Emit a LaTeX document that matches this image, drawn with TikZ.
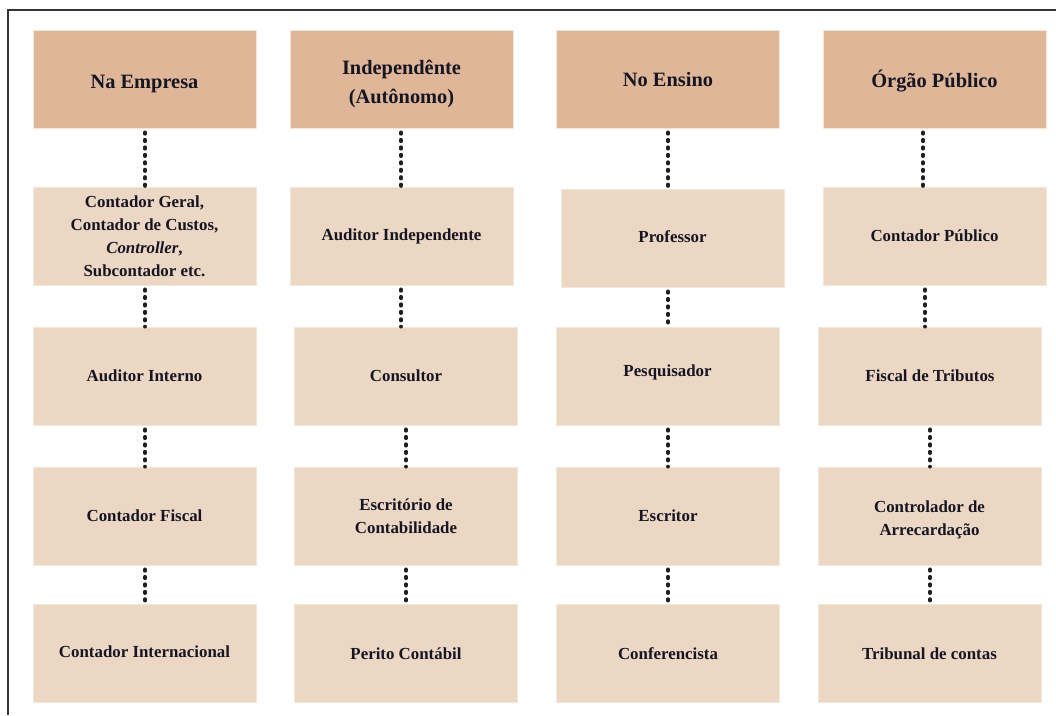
\documentclass[tikz,border=0pt]{standalone}
\usepackage{fontspec}
\setmainfont{Liberation Serif}
\usepackage{xcolor}
\usetikzlibrary{calc}

\definecolor{headfill}{RGB}{223,182,152}
\definecolor{rowfill}{RGB}{236,214,196}
\definecolor{boxedge}{RGB}{244,230,219}
\definecolor{txt}{RGB}{22,22,34}

\tikzset{
  head/.style={fill=headfill, draw=boxedge, line width=0.5pt,
    minimum width=5.575cm, minimum height=2.45cm, align=center,
    text depth=0pt, text=txt, font=\fontsize{14.5}{20.5}\selectfont\bfseries},
  role/.style={fill=rowfill, draw=boxedge, line width=0.5pt,
    minimum width=5.575cm, minimum height=2.45cm, align=center,
    text=txt, font=\fontsize{12}{16.3}\selectfont\bfseries},
  dots/.style={line width=2.7pt, dash pattern=on 1pt off 4.3pt,
    line cap=round, black!88}
}

\begin{document}
\begin{tikzpicture}[x=0.025cm,y=-0.025cm]
\useasboundingbox (0,0) rectangle (1056,715);

% frame
\draw[line width=1pt,black!80] (8,715) -- (8,10) -- (1056,10);

% column headers
\node[head] (emp0) at (144.5,79) {\rule{0pt}{13pt}Na Empresa};
\node[head] (ind0) at (401.5,79) {\rule{0pt}{14pt}Independênte\\(Autônomo)};
\node[head] (ens0) at (668,79) {No Ensino};
\node[head] (pub0) at (934.5,79) {Órgão Público};

% Na Empresa
\node[role] (emp1) at (144.5,236) {Contador Geral,\\Contador de Custos,\\\textit{Controller},\\Subcontador etc.};
\node[role] (emp2) at (144.5,376) {Auditor Interno};
\node[role] (emp3) at (144.5,516) {Contador Fiscal};
\node[role] (emp4) at (144.5,653.5) {\raisebox{3pt}{Contador Internacional}};

% Independente
\node[role] (ind1) at (401.5,236) {Auditor Independente};
\node[role] (ind2) at (406,376) {Consultor};
\node[role] (ind3) at (406,516) {Escritório de\\Contabilidade};
\node[role] (ind4) at (406,653.5) {Perito Contábil};

% No Ensino
\node[role] (ens1) at (672.5,238) {\raisebox{2pt}{Professor}};
\node[role] (ens2) at (667.5,376) {\raisebox{8pt}{Pesquisador}};
\node[role] (ens3) at (668,516) {Escritor};
\node[role] (ens4) at (668,653.5) {Conferencista};

% Orgao Publico
\node[role] (pub1) at (934.5,236) {Contador Público};
\node[role] (pub2) at (930,376) {Fiscal de Tributos};
\node[role] (pub3) at (929.5,516) {\rule{0pt}{14pt}Controlador de\\Arrecardação};
\node[role] (pub4) at (929.5,653.5) {Tribunal de contas};

% dotted links
\foreach \a/\b/\dx in {emp0/emp1/0.5, emp1/emp2/0.5, emp2/emp3/0.5, emp3/emp4/0.5,
  ind0/ind1/-0.5, ind1/ind2/-0.5, ind2/ind3/0, ind3/ind4/0,
  ens0/ens1/0, ens1/ens2/-4.5, ens2/ens3/0.5, ens3/ens4/0,
  pub0/pub1/-11.5, pub1/pub2/-9.5, pub2/pub3/0, pub3/pub4/0.5}
{
  \draw[dots] ($(\a.south)+(\dx,4)$) -- ($(\a.south |- \b.north)+(\dx,0)$);
}

\end{tikzpicture}
\end{document}
